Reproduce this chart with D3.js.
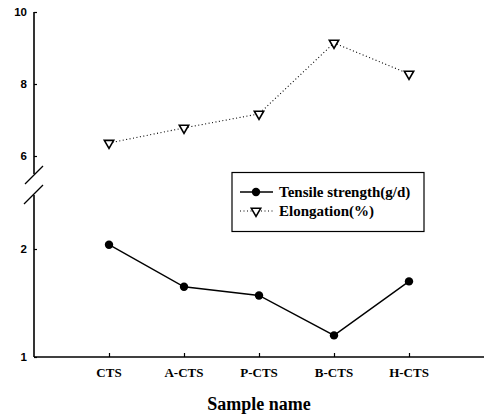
<!DOCTYPE html>
<html><head><meta charset="utf-8">
<script src="https://cdn.jsdelivr.net/npm/d3@7"></script>
<style>body{margin:0;background:#fff}svg{display:block}</style>
</head><body><svg id="c" width="484" height="418"></svg>
<script>
const categories = ["CTS","A-CTS","P-CTS","B-CTS","H-CTS"];
const tensile = [2.04, 1.65, 1.57, 1.20, 1.70];
const elongation = [6.36, 6.78, 7.17, 9.14, 8.28];
const upperTicks = [6, 8, 10];
const lowerTicks = [1, 2];

const svg = d3.select("#c");
const x = d3.scaleLinear().domain([-1, 6]).range([34, 559]);
const yUp = d3.scaleLinear().domain([5.5, 10]).range([174, 12]);
const yLo = d3.scaleLinear().domain([1, 2.5]).range([357, 195]);

const sans = "Liberation Sans, Arial, sans-serif";
const serif = "Liberation Serif, Times New Roman, serif";

// Upper y axis
const gUp = svg.append("g").attr("transform","translate(34,0)")
  .call(d3.axisRight(yUp).tickValues(upperTicks).tickSize(3).tickFormat(""));
gUp.select(".domain").attr("d","M0,174V12").attr("stroke-width",1.6);
gUp.selectAll(".tick line").attr("stroke-width",1.2);
const gLo = svg.append("g").attr("transform","translate(34,0)")
  .call(d3.axisRight(yLo).tickValues(lowerTicks).tickSize(3).tickFormat(""));
gLo.select(".domain").attr("d","M0,357V195").attr("stroke-width",1.6);
gLo.selectAll(".tick line").attr("stroke-width",1.2);

// y tick labels
upperTicks.forEach(t => svg.append("text").attr("x",27).attr("y",yUp(t)).attr("dy","0.35em")
  .attr("text-anchor","end").attr("font-family",sans).attr("font-weight","bold").attr("font-size",11.5).text(t));
lowerTicks.forEach(t => svg.append("text").attr("x",27).attr("y",yLo(t)).attr("dy","0.35em")
  .attr("text-anchor","end").attr("font-family",sans).attr("font-weight","bold").attr("font-size",11.5).text(t));

// break marks
svg.append("line").attr("x1",25).attr("y1",184).attr("x2",43).attr("y2",166).attr("stroke","#000").attr("stroke-width",1.2);
svg.append("line").attr("x1",24).attr("y1",204).attr("x2",43).attr("y2",185).attr("stroke","#000").attr("stroke-width",1.2);

// x axis
const gx = svg.append("g").attr("transform","translate(0,357)")
  .call(d3.axisTop(x).tickValues(d3.range(categories.length)).tickSize(4).tickFormat(""));
gx.select(".domain").attr("d","M34,0H484").attr("stroke-width",1.6);
gx.selectAll(".tick line").attr("stroke-width",1.2);
categories.forEach((c,i) => svg.append("text").attr("x",x(i)).attr("y",377)
  .attr("text-anchor","middle").attr("font-family",serif).attr("font-weight","bold").attr("font-size",13).text(c));
svg.append("text").attr("x",259).attr("y",410).attr("text-anchor","middle")
  .attr("font-family",serif).attr("font-weight","bold").attr("font-size",18).text("Sample name");

// elongation line
const lineUp = d3.line().x((d,i)=>x(i)).y(d=>yUp(d));
svg.append("path").attr("d",lineUp(elongation)).attr("fill","none").attr("stroke","#000")
  .attr("stroke-width",1.1).attr("stroke-dasharray","1,2.5");
const tri = d3.symbol().type(d3.symbolTriangle).size(38);
svg.selectAll(".tri").data(elongation).join("path")
  .attr("transform",(d,i)=>`translate(${x(i)},${yUp(d)}) rotate(180)`)
  .attr("d",tri).attr("fill","#fff").attr("stroke","#000").attr("stroke-width",1.6);

// tensile line
const lineLo = d3.line().x((d,i)=>x(i)).y(d=>yLo(d));
svg.append("path").attr("d",lineLo(tensile)).attr("fill","none").attr("stroke","#000").attr("stroke-width",1.4);
svg.selectAll(".dot").data(tensile).join("circle")
  .attr("cx",(d,i)=>x(i)).attr("cy",d=>yLo(d)).attr("r",4.2).attr("fill","#000");

// legend
const lg = svg.append("g");
lg.append("rect").attr("x",232).attr("y",172.5).attr("width",192).attr("height",59)
  .attr("fill","#fff").attr("stroke","#000").attr("stroke-width",1.2);
lg.append("line").attr("x1",240).attr("x2",273).attr("y1",192).attr("y2",192).attr("stroke","#000").attr("stroke-width",1.4);
lg.append("circle").attr("cx",256).attr("cy",192).attr("r",4.2).attr("fill","#000");
lg.append("line").attr("x1",240).attr("x2",273).attr("y1",211).attr("y2",211).attr("stroke","#000")
  .attr("stroke-width",1.1).attr("stroke-dasharray","1,2.5");
lg.append("path").attr("transform","translate(256,211) rotate(180)").attr("d",tri)
  .attr("fill","#fff").attr("stroke","#000").attr("stroke-width",1.6);
lg.append("text").attr("x",279).attr("y",192).attr("dy","0.35em").attr("font-family",serif)
  .attr("font-weight","bold").attr("font-size",15).text("Tensile strength(g/d)");
lg.append("text").attr("x",279).attr("y",211).attr("dy","0.35em").attr("font-family",serif)
  .attr("font-weight","bold").attr("font-size",15).text("Elongation(%)");
</script></body></html>
